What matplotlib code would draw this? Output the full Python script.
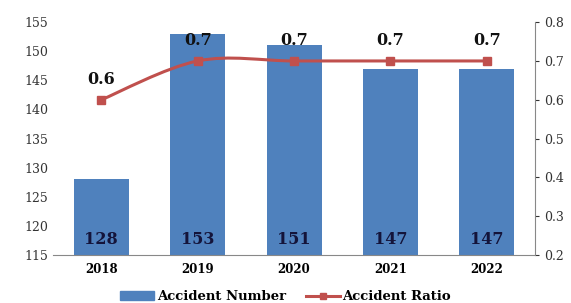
import matplotlib.pyplot as plt
import numpy as np
from matplotlib.path import Path
from matplotlib.patches import PathPatch
from matplotlib.lines import Line2D
from matplotlib.patches import Patch

years = ["2018", "2019", "2020", "2021", "2022"]
accident_number = [128, 153, 151, 147, 147]
accident_ratio = [0.6, 0.7, 0.7, 0.7, 0.7]

bar_color = "#4F81BD"
line_color = "#C0504D"
plt.rcParams["font.family"] = ["DejaVu Serif"]

fig = plt.figure(figsize=(5.71, 3.03), dpi=100)
ax1 = fig.add_axes([0.093, 0.158, 0.844, 0.769])
x = np.arange(len(years))

ax1.bar(x, accident_number, width=0.57, color=bar_color, zorder=2)
ax1.set_ylim(115, 155)
ax1.set_yticks(range(115, 156, 5))
ax1.set_xlim(-0.5, 4.5)
ax1.set_xticks(x)
ax1.set_xticklabels(years, fontweight="bold", fontsize=8.5)
ax1.tick_params(axis="y", length=0, labelsize=9, colors="#333333")
ax1.tick_params(axis="x", length=0, pad=6)
for s in ["top", "left", "right"]:
    ax1.spines[s].set_visible(False)
ax1.spines["bottom"].set_color("#888888")

for xi, v in zip(x, accident_number):
    ax1.text(xi, 116.2, str(v), ha="center", va="bottom", fontsize=11.5,
             fontweight="bold", color="#14143a", zorder=4)

ax2 = ax1.twinx()
ax2.set_ylim(0.2, 0.8)
ax2.set_yticks(np.arange(0.2, 0.81, 0.1))
ax2.set_yticklabels([f"{t:.1f}" for t in np.arange(0.2, 0.81, 0.1)])
ax2.tick_params(axis="y", labelsize=9, colors="#333333", length=3)
for s in ["top", "left", "bottom"]:
    ax2.spines[s].set_visible(False)
ax2.spines["right"].set_color("#888888")

# smooth line (Catmull-Rom to Bezier)
pts = np.column_stack([x, accident_ratio]).astype(float)
verts = [pts[0]]
codes = [Path.MOVETO]
for i in range(len(pts) - 1):
    p0 = pts[i - 1] if i > 0 else pts[i]
    p1, p2 = pts[i], pts[i + 1]
    p3 = pts[i + 2] if i + 2 < len(pts) else pts[i + 1]
    c1 = p1 + (p2 - p0) / 6
    c2 = p2 - (p3 - p1) / 6
    verts += [c1, c2, p2]
    codes += [Path.CURVE4] * 3
ax2.add_patch(PathPatch(Path(verts, codes), facecolor="none",
                        edgecolor=line_color, lw=2.2, zorder=3))
ax2.plot(x, accident_ratio, "s", color=line_color, ms=6, zorder=4)

for xi, v in zip(x, accident_ratio):
    ax2.text(xi, v + 0.03, f"{v:.1f}", ha="center", va="bottom",
             fontsize=11.5, fontweight="bold", color="#111111")

handles = [Patch(color=bar_color),
           Line2D([0], [0], color=line_color, lw=2.2, marker="s", ms=5)]
fig.legend(handles, ["Accident Number", "Accident Ratio"], loc="lower center",
           bbox_to_anchor=(0.5, -0.04), ncol=2, frameon=False,
           prop={"weight": "bold", "size": 9.5}, handlelength=2.6,
           handletextpad=0.2, columnspacing=1.5)

fig.savefig("out.png", dpi=100)
